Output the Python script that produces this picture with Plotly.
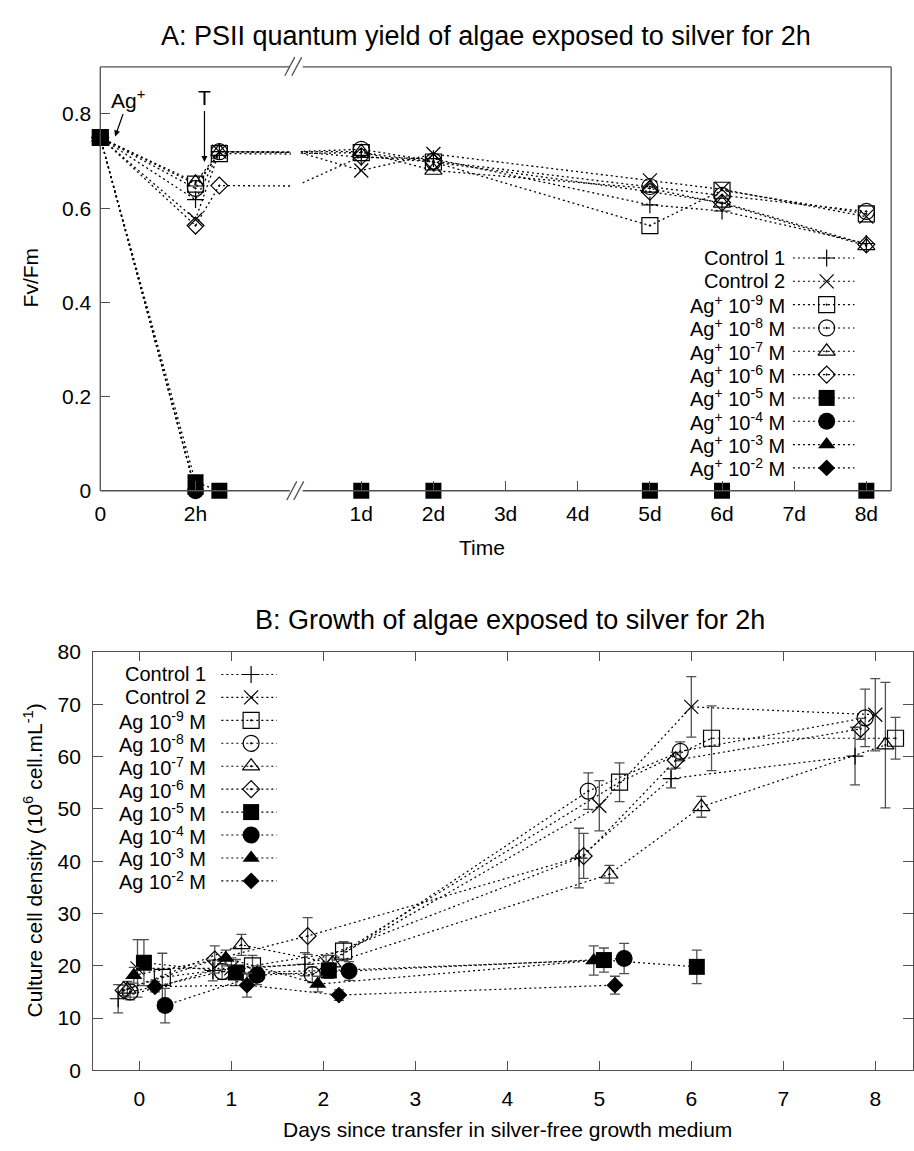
import plotly.graph_objects as go

W, H = 914, 1151
FONT = "Liberation Sans, Arial, sans-serif"

# ---------------- Panel A data (Fv/Fm) ----------------
A_TIME_HOURS = [0, 2, 2.5, 24, 48, 120, 144, 192]
A_LEFT_TICKS = [0, 2]
A_LEFT_LABELS = ["0", "2h"]
A_RIGHT_TICKS = [1, 2, 3, 4, 5, 6, 7, 8]
A_RIGHT_LABELS = ["1d", "2d", "3d", "4d", "5d", "6d", "7d", "8d"]
A_Y_TICKS = [0, 0.2, 0.4, 0.6, 0.8]
A_Y_LABELS = ["0", "0.2", "0.4", "0.6", "0.8"]

A_CONTROL1 = [0.75, 0.618, 0.72, 0.708, 0.705, 0.607, 0.594, 0.525]
A_CONTROL2 = [0.75, 0.576, 0.72, 0.680, 0.715, 0.659, 0.640, 0.582]
A_AG9 = [0.75, 0.651, 0.716, 0.718, 0.698, 0.563, 0.638, 0.588]
A_AG8 = [0.75, 0.642, 0.72, 0.725, 0.700, 0.646, 0.627, 0.593]
A_AG7 = [0.75, 0.655, 0.72, 0.720, 0.680, 0.642, 0.610, 0.520]
A_AG6 = [0.75, 0.563, 0.648, 0.710, 0.698, 0.635, 0.612, 0.523]
A_AG5 = [0.75, 0.018, 0.0, 0.0, 0.0, 0.0, 0.0, 0.0]
A_AG4 = [0.75, 0.0]
A_AG3 = [0.75, 0.0]
A_AG2 = [0.75, 0.0]

# ---------------- Panel B data (cell density) ----------------
B_X_TICKS = [0, 1, 2, 3, 4, 5, 6, 7, 8]
B_Y_TICKS = [0, 10, 20, 30, 40, 50, 60, 70, 80]

B_CONTROL1_X = [-0.23, 0.80, 1.80, 4.78, 5.78, 7.78]
B_CONTROL1_Y = [13.7, 19.1, 20.3, 40.6, 55.8, 60.1]
B_CONTROL1_E = [2.7, 2.0, 2.2, 5.7, 1.8, 5.5]

B_CONTROL2_X = [-0.02, 1.00, 2.03, 5.00, 6.00, 8.00]
B_CONTROL2_Y = [19.5, 19.5, 20.5, 50.6, 69.5, 68.0]
B_CONTROL2_E = [5.5, 2.0, 1.5, 4.8, 5.8, 6.9]

B_AG9_X = [0.25, 1.23, 2.22, 5.22, 6.22, 8.22]
B_AG9_Y = [17.8, 20.0, 22.8, 55.1, 63.5, 63.5]
B_AG9_E = [4.6, 2.0, 1.8, 3.7, 6.2, 4.0]

B_AG8_X = [-0.10, 0.90, 1.88, 4.88, 5.88, 7.89]
B_AG8_Y = [15.0, 18.9, 18.3, 53.4, 61.0, 67.4]
B_AG8_E = [1.5, 1.5, 1.5, 3.5, 1.8, 5.5]

B_AG7_X = [-0.13, 1.11, 2.10, 5.11, 6.11, 8.11]
B_AG7_Y = [15.5, 24.0, 20.5, 37.5, 50.4, 62.2]
B_AG7_E = [1.5, 2.0, 1.5, 1.7, 2.0, 12.0]

B_AG6_X = [-0.17, 0.82, 1.83, 4.83, 5.83, 7.84]
B_AG6_Y = [15.3, 21.2, 25.7, 41.0, 59.3, 65.3]
B_AG6_E = [1.0, 2.6, 3.5, 4.3, 1.5, 2.0]

B_AG5_X = [0.05, 1.05, 2.06, 5.05, 6.06]
B_AG5_Y = [20.6, 18.7, 19.1, 21.1, 19.8]
B_AG5_E = [4.4, 2.5, 1.5, 2.3, 3.2]

B_AG4_X = [0.28, 1.28, 2.28, 5.27]
B_AG4_Y = [12.4, 18.2, 19.0, 21.4]
B_AG4_E = [3.3, 1.8, 1.8, 2.9]

B_AG3_X = [-0.06, 0.94, 1.94, 4.94]
B_AG3_Y = [18.2, 21.5, 16.5, 21.0]
B_AG3_E = [1.5, 1.5, 1.5, 2.8]

B_AG2_X = [0.17, 1.17, 2.17, 5.17]
B_AG2_Y = [16.0, 16.3, 14.4, 16.3]
B_AG2_E = [1.0, 2.3, 1.0, 1.7]

LEGEND_A = ["Control 1", "Control 2",
            "Ag<sup>+</sup> 10<sup>-9</sup> M", "Ag<sup>+</sup> 10<sup>-8</sup> M",
            "Ag<sup>+</sup> 10<sup>-7</sup> M", "Ag<sup>+</sup> 10<sup>-6</sup> M",
            "Ag<sup>+</sup> 10<sup>-5</sup> M", "Ag<sup>+</sup> 10<sup>-4</sup> M",
            "Ag<sup>+</sup> 10<sup>-3</sup> M", "Ag<sup>+</sup> 10<sup>-2</sup> M"]
LEGEND_B = ["Control 1", "Control 2",
            "Ag 10<sup>-9</sup> M", "Ag 10<sup>-8</sup> M", "Ag 10<sup>-7</sup> M",
            "Ag 10<sup>-6</sup> M", "Ag 10<sup>-5</sup> M", "Ag 10<sup>-4</sup> M",
            "Ag 10<sup>-3</sup> M", "Ag 10<sup>-2</sup> M"]

TITLE_A = "A: PSII quantum yield of algae exposed to silver for 2h"
TITLE_B = "B: Growth of algae exposed to silver for 2h"

# ---------------- styling ----------------
SYMBOLS = [("cross-thin-open", 12), ("x-thin-open", 14), ("square-open-dot", 16),
           ("circle-open-dot", 16), ("triangle-up-open-dot", 15), ("diamond-open-dot", 13),
           ("square", 16), ("circle", 17), ("triangle-up", 15), ("diamond", 13)]
DASH = "2px,3px"
AXC = "#505050"


def px(x):
    return x / W


def py(y):
    return 1 - y / H


def marker(i):
    sym, size = SYMBOLS[i]
    return dict(symbol=sym, size=size, color="black",
                line=dict(color="black", width=1.2 if i < 6 else 0))


fig = go.Figure()

# ---- Panel A: broken time axis = two x axes (hours | days)
A_SERIES = [A_CONTROL1, A_CONTROL2, A_AG9, A_AG8, A_AG7, A_AG6, A_AG5, A_AG4, A_AG3, A_AG2]
LEFT_MAX_H = 4.0
RIGHT_MIN_D = 0.161
order_a = [0, 1, 2, 3, 4, 5, 7, 8, 9, 6]  # black square drawn on top
for i in order_a:
    vals = A_SERIES[i]
    hrs = A_TIME_HOURS[:len(vals)]
    days = [h / 24 for h in hrs]
    for xa, ya, xs, keep in (("x", "y", hrs, [h <= LEFT_MAX_H for h in hrs]),
                             ("x2", "y2", days, [d >= RIGHT_MIN_D for d in days])):
        fig.add_trace(go.Scatter(x=xs, y=vals, xaxis=xa, yaxis=ya, mode="lines",
                                 line=dict(color="black", width=1.3, dash=DASH),
                                 showlegend=False, hoverinfo="skip"))
        mx = [x for x, k in zip(xs, keep) if k]
        my = [v for v, k in zip(vals, keep) if k]
        if mx:
            fig.add_trace(go.Scatter(x=mx, y=my, xaxis=xa, yaxis=ya, mode="markers",
                                     marker=marker(i), cliponaxis=False,
                                     showlegend=False, hoverinfo="skip"))

# ---- Panel B
B_SERIES = [(B_CONTROL1_X, B_CONTROL1_Y, B_CONTROL1_E), (B_CONTROL2_X, B_CONTROL2_Y, B_CONTROL2_E),
            (B_AG9_X, B_AG9_Y, B_AG9_E), (B_AG8_X, B_AG8_Y, B_AG8_E),
            (B_AG7_X, B_AG7_Y, B_AG7_E), (B_AG6_X, B_AG6_Y, B_AG6_E),
            (B_AG5_X, B_AG5_Y, B_AG5_E), (B_AG4_X, B_AG4_Y, B_AG4_E),
            (B_AG3_X, B_AG3_Y, B_AG3_E), (B_AG2_X, B_AG2_Y, B_AG2_E)]
for i, (xs, ys, es) in enumerate(B_SERIES):
    fig.add_trace(go.Scatter(x=xs, y=ys, xaxis="x3", yaxis="y3", mode="lines+markers",
                             line=dict(color="black", width=1.2, dash=DASH),
                             marker=marker(i),
                             error_y=dict(type="data", array=es, color="#505050",
                                          thickness=1.3, width=5),
                             showlegend=False, hoverinfo="skip"))

# ---- custom legends on a pixel overlay axis
def legend(labels, x_text, x0, x1, xm, y0, dy):
    for i, lab in enumerate(labels):
        yy = y0 + i * dy
        fig.add_trace(go.Scatter(x=[x0, x1], y=[yy, yy], xaxis="x4", yaxis="y4", mode="lines",
                                 line=dict(color="black", width=1.1, dash=DASH),
                                 showlegend=False, hoverinfo="skip"))
        fig.add_trace(go.Scatter(x=[xm], y=[yy], xaxis="x4", yaxis="y4", mode="markers",
                                 marker=marker(i), showlegend=False, hoverinfo="skip"))
        fig.add_annotation(x=px(x_text), y=py(yy), xref="paper", yref="paper",
                           text=lab, showarrow=False, xanchor="right", yanchor="middle",
                           font=dict(size=20, family=FONT, color="black"))


legend(LEGEND_A, 787, 793, 855, 827, 251, 23.8)
legend(LEGEND_B, 204, 217, 273, 247, 676, 23.4)

tick_common = dict(ticks="inside", showgrid=False, zeroline=False,
                   tickfont=dict(size=21, family=FONT, color="black"),
                   tickcolor=AXC, tickwidth=1.3)

YA_DOM = [py(488.5), py(56)]
fig.update_layout(
    width=W, height=H, margin=dict(l=0, r=0, t=0, b=0),
    paper_bgcolor="white", plot_bgcolor="rgba(0,0,0,0)", showlegend=False,
    xaxis=dict(domain=[px(95), px(287)], range=[0, LEFT_MAX_H], anchor="y",
               tickvals=A_LEFT_TICKS, ticktext=A_LEFT_LABELS, ticklen=10,
               showline=False, ticklabelstandoff=8, **tick_common),
    yaxis=dict(domain=YA_DOM, range=[0, 0.9], anchor="x",
               tickvals=A_Y_TICKS, ticktext=A_Y_LABELS, ticklen=10,
               showline=False, ticklabelstandoff=8, **tick_common),
    xaxis2=dict(domain=[px(297), px(892)], range=[RIGHT_MIN_D, 8.344], anchor="y2",
                tickvals=A_RIGHT_TICKS, ticktext=A_RIGHT_LABELS, ticklen=10,
                showline=False, ticklabelstandoff=8, **tick_common),
    yaxis2=dict(domain=YA_DOM, range=[0, 0.9], anchor="x2", visible=False),
    xaxis3=dict(domain=[px(88), 1.0], range=[-0.5, 8.41], anchor="y3",
                tickvals=B_X_TICKS, ticklen=9, showline=True, linecolor=AXC, linewidth=1.3,
                mirror="ticks", ticklabelstandoff=9, **tick_common),
    yaxis3=dict(domain=[py(1080), py(653)], range=[0, 80], anchor="x3",
                tickvals=B_Y_TICKS, ticklen=10, showline=True, linecolor=AXC, linewidth=1.3,
                mirror="ticks", ticklabelstandoff=7, **tick_common),
    xaxis4=dict(domain=[0, 1], range=[0, W], visible=False, anchor="y4"),
    yaxis4=dict(domain=[0, 1], range=[H, 0], visible=False, anchor="x4"),
)

# ---- Panel A frame with axis break
LN = dict(color=AXC, width=1.3)
segs = [((95, 56), (95, 488.5)), ((892, 56), (892, 488.5)),
        ((95, 488.5), (286, 488.5)), ((299, 488.5), (892, 488.5)),
        ((95, 56), (286, 56)), ((299, 56), (892, 56)),
        ((283, 498), (293, 479)), ((290, 498), (300, 479)),
        ((281, 65), (291, 46)), ((288, 65), (298, 46))]
for (xa_, ya_), (xb_, yb_) in segs:
    fig.add_shape(type="line", xref="paper", yref="paper",
                  x0=px(xa_), y0=py(ya_), x1=px(xb_), y1=py(yb_), line=LN)

# ---- titles / axis titles
def text(x, y, s, size, angle=0):
    fig.add_annotation(x=px(x), y=py(y), xref="paper", yref="paper", text=s,
                       showarrow=False, xanchor="center", yanchor="middle", textangle=angle,
                       font=dict(size=size, family=FONT, color="black"))


text(484, 24, TITLE_A, 27)
text(508, 620, TITLE_B, 27)
text(480, 546, "Time", 21)
text(505, 1140, "Days since transfer in silver-free growth medium", 21)
text(25, 271, "Fv/Fm", 21, -90)
text(27, 866, "Culture cell density (10<sup>6</sup> cell.mL<sup>-1</sup>)", 21, -90)

# ---- arrows
fig.add_annotation(x=px(110), y=py(127), xref="paper", yref="paper",
                   text="Ag<sup>+</sup>", ax=13, ay=-37, showarrow=True,
                   arrowhead=2, arrowsize=1, arrowwidth=1.2, arrowcolor="black",
                   font=dict(size=21, family=FONT, color="black"))
fig.add_annotation(x=px(200), y=py(153), xref="paper", yref="paper",
                   text="T", ax=0, ay=-64, showarrow=True,
                   arrowhead=2, arrowsize=1, arrowwidth=1.2, arrowcolor="black",
                   font=dict(size=21, family=FONT, color="black"))

fig.write_html("out.html", config={"displayModeBar": False},
               post_script="document.body.style.margin='0';")
